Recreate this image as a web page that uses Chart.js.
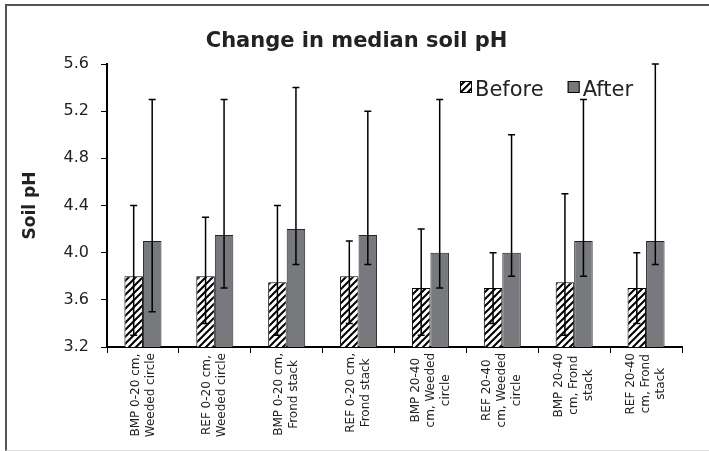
<!DOCTYPE html>
<html>
<head>
<meta charset="utf-8">
<script src="https://cdn.jsdelivr.net/npm/chart.js@4.4.0/dist/chart.umd.min.js"></script>
<style>
  body { margin: 0; background: #fff; overflow: hidden; }
  #frame { position: absolute; left: 5px; top: 4px; width: 720px; height: 444px;
           border-left: 2px solid #555; border-top: 2px solid #555; border-bottom: 1px solid #ddd; }
  #wrap { position: absolute; left: 0; top: 0; width: 709px; height: 451px; }
</style>
</head>
<body>
<div id="frame"></div>
<div id="wrap"><canvas id="phChart"></canvas></div>
<script>
const chartTitle = "Change in median soil pH";
const categories = [
  ["BMP 0-20 cm,", "Weeded circle"],
  ["REF 0-20 cm,", "Weeded circle"],
  ["BMP 0-20 cm,", "Frond stack"],
  ["REF 0-20 cm,", "Frond stack"],
  ["BMP 20-40", "cm, Weeded", "circle"],
  ["REF 20-40", "cm, Weeded", "circle"],
  ["BMP 20-40", "cm, Frond", "stack"],
  ["REF 20-40", "cm, Frond", "stack"]
];
const before     = [3.8, 3.8, 3.75, 3.8, 3.7, 3.7, 3.75, 3.7];
const after      = [4.1, 4.15, 4.2, 4.15, 4.0, 4.0, 4.1, 4.1];
const beforeLow  = [3.3, 3.4, 3.3, 3.4, 3.3, 3.4, 3.3, 3.4];
const beforeHigh = [4.4, 4.3, 4.4, 4.1, 4.2, 4.0, 4.5, 4.0];
const afterLow   = [3.5, 3.7, 3.9, 3.9, 3.7, 3.8, 3.8, 3.9];
const afterHigh  = [5.3, 5.3, 5.4, 5.2, 5.3, 5.0, 5.3, 5.6];
const yTicks     = [3.2, 3.6, 4.0, 4.4, 4.8, 5.2, 5.6];

const FONT = "'DejaVu Sans', sans-serif";

// diagonal hatch for the "before" bars
function makeHatch() {
  const c = document.createElement("canvas");
  c.width = 7; c.height = 7;
  const g = c.getContext("2d");
  g.fillStyle = "#fff";
  g.fillRect(0, 0, 7, 7);
  g.strokeStyle = "#000";
  g.lineWidth = 2;
  g.beginPath();
  g.moveTo(-1, 8); g.lineTo(8, -1);
  g.moveTo(-4, 4); g.lineTo(4, -4);
  g.moveTo(3, 11); g.lineTo(11, 3);
  g.stroke();
  return g.createPattern(c, "repeat");
}
const hatch = makeHatch();
const afterColor = "#77797c";

const errorBars = {
  id: "errorBars",
  afterDatasetsDraw(chart) {
    const ctx = chart.ctx;
    const y = chart.scales.y;
    const ranges = [[beforeLow, beforeHigh], [afterLow, afterHigh]];
    ctx.save();
    ctx.strokeStyle = "#000";
    ctx.lineWidth = 1.5;
    ranges.forEach((r, di) => {
      chart.getDatasetMeta(di).data.forEach((bar, i) => {
        const x = bar.x;
        const lo = y.getPixelForValue(r[0][i]);
        const hi = y.getPixelForValue(r[1][i]);
        ctx.beginPath();
        ctx.moveTo(x, lo); ctx.lineTo(x, hi);
        ctx.moveTo(x - 3.5, lo); ctx.lineTo(x + 3.5, lo);
        ctx.moveTo(x - 3.5, hi); ctx.lineTo(x + 3.5, hi);
        ctx.stroke();
      });
    });
    ctx.restore();
  }
};

// rotated, centred category labels (as in the original)
const xLabels = {
  id: "xLabels",
  afterDraw(chart) {
    const ctx = chart.ctx;
    const x = chart.scales.x;
    const top = chart.chartArea.bottom + 6;
    const lh = 15;
    ctx.save();
    ctx.font = "12px " + FONT;
    ctx.fillStyle = "#222";
    ctx.textAlign = "center";
    ctx.textBaseline = "middle";
    categories.forEach((lines, i) => {
      const cx = x.getPixelForValue(i);
      const maxLen = Math.max(...lines.map(l => ctx.measureText(l).width));
      ctx.save();
      ctx.translate(cx, top);
      ctx.rotate(-Math.PI / 2);
      lines.forEach((l, j) => {
        ctx.fillText(l, -maxLen / 2, (j - (lines.length - 1) / 2) * lh);
      });
      ctx.restore();
    });
    ctx.restore();
  }
};

// title centred on the whole chart box, legend inside the plot
const titleAndLegend = {
  id: "titleAndLegend",
  afterDraw(chart) {
    const ctx = chart.ctx;
    const a = chart.chartArea;
    ctx.save();
    ctx.fillStyle = "#222";
    ctx.font = "bold 21px " + FONT;
    ctx.textAlign = "center";
    ctx.textBaseline = "middle";
    ctx.fillText(chartTitle, chart.width / 2 + 2, 42);

    ctx.textAlign = "left";
    ctx.textBaseline = "alphabetic";
    ctx.font = "21px " + FONT;
    let px = a.right - 222;
    const base = a.top + 32;
    chart.data.datasets.forEach(ds => {
      ctx.fillStyle = ds.backgroundColor;
      ctx.fillRect(px, base - 15, 12, 12);
      ctx.strokeStyle = "#000";
      ctx.lineWidth = 1;
      ctx.strokeRect(px + 0.5, base - 14.5, 11, 11);
      ctx.fillStyle = "#222";
      ctx.fillText(ds.label, px + 15, base);
      px += 15 + ctx.measureText(ds.label).width + 24;
    });
    ctx.restore();
  }
};

new Chart(document.getElementById("phChart"), {
  type: "bar",
  data: {
    labels: categories,
    datasets: [
      { label: "Before", data: before, backgroundColor: hatch, borderColor: "#000", borderWidth: 1 },
      { label: "After", data: after, backgroundColor: afterColor, borderColor: "#222", borderWidth: 1 }
    ]
  },
  options: {
    responsive: true,
    maintainAspectRatio: false,
    animation: false,
    categoryPercentage: 0.515,
    barPercentage: 1,
    layout: { padding: { left: 0, right: 27, top: 64, bottom: 0 } },
    plugins: {
      legend: { display: false },
      tooltip: { enabled: false },
      title: { display: false }
    },
    scales: {
      x: {
        offset: true,
        grid: { drawOnChartArea: false, offset: true, color: "#000", tickLength: 6, lineWidth: 1 },
        border: { color: "#000", width: 2 },
        ticks: { display: false },
        afterFit(s) { s.height = 104; }
      },
      y: {
        min: 3.2,
        max: 5.6,
        afterBuildTicks(s) { s.ticks = yTicks.map(v => ({ value: v })); },
        grid: { drawOnChartArea: false, color: "#000", tickLength: 6 },
        border: { color: "#000", width: 2 },
        ticks: {
          color: "#222",
          padding: 12,
          font: { family: FONT, size: 16 },
          callback: v => v.toFixed(1)
        },
        title: {
          display: true,
          text: "Soil pH",
          color: "#222",
          font: { family: FONT, size: 17, weight: "bold" },
          padding: { top: 20, bottom: 0 }
        },
        afterFit(s) { s.width = 107; }
      }
    }
  },
  plugins: [errorBars, xLabels, titleAndLegend]
});
</script>
</body>
</html>
